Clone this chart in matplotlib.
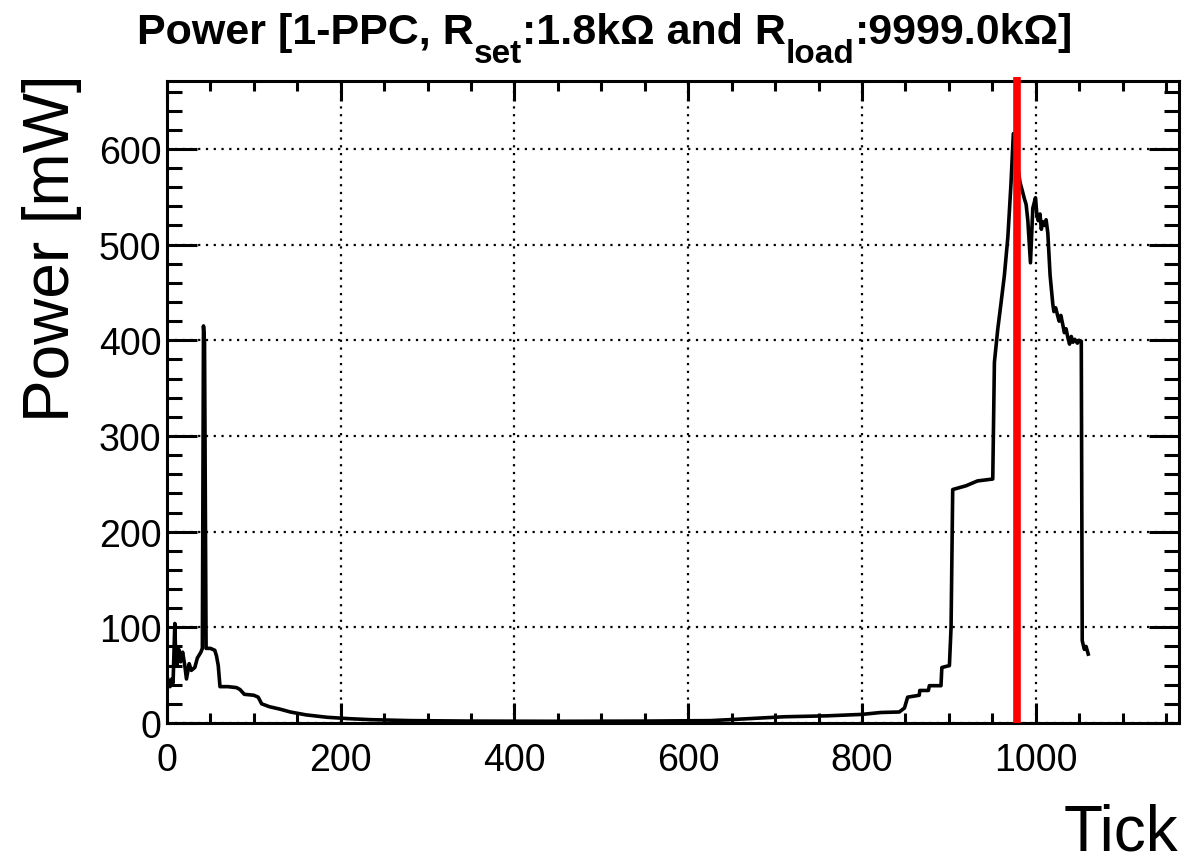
import matplotlib
matplotlib.use("Agg")
import matplotlib.pyplot as plt
from matplotlib.ticker import MultipleLocator

plt.rcParams["font.family"] = ["Liberation Sans", "DejaVu Sans"]

# power trace (tick, mW)
tick_x = [0, 3.5, 5.5, 7, 9, 10, 11.5, 13.5, 15.7, 18, 20.5, 22.4, 25.5, 28, 32, 35, 39,
          40.7, 42, 43.2, 45, 50, 55, 57, 59, 61, 70, 80, 84, 89, 100, 105, 109, 118, 130,
          142, 160, 184, 210, 234, 280, 350, 450, 550, 626, 669, 710, 760, 800, 822, 843,
          849, 852.6, 866, 866.6, 876.5, 877.6, 891, 892, 900.7, 902.6, 904.5, 920, 933,
          950.6, 952.5, 956.4, 960, 964, 968, 971.6, 974.3, 978, 982, 985, 987, 989, 991,
          994, 996.7, 999.8, 1001.5, 1003, 1005, 1006.5, 1008, 1010, 1012, 1014, 1016.6,
          1019.7, 1021, 1023, 1025.5, 1027, 1029, 1031.3, 1033, 1035, 1037, 1039, 1041,
          1043, 1045, 1048, 1050, 1052.5, 1053.6, 1056, 1058, 1060.5]
power_mw = [49, 38, 46, 42, 104, 70, 60, 77, 64, 74, 60, 46, 62, 55, 58, 68, 74,
            78, 415, 398, 78, 78, 76, 70, 60, 38, 38, 37, 35, 30, 29, 27, 20, 17, 14.5,
            11.5, 8.5, 6, 4.5, 3.5, 2.5, 2, 1.8, 2, 2.5, 4.5, 6.5, 7.5, 9, 11, 11.5,
            15.7, 27, 29, 34, 34, 39, 39, 58, 60, 100, 244, 248, 253,
            255, 377, 412, 438, 468, 508, 564, 616, 590, 565, 555, 548, 542, 525,
            481, 538, 549, 530, 525, 532, 516, 524, 520, 526, 512, 468,
            438, 430, 434, 425, 420, 426, 416, 408, 412, 403, 396, 404,
            398, 401, 397, 400, 399, 86, 77, 80, 72]
cut_tick = 978.5

title_parts = ["Power [1-PPC, R", "set", ":1.8kΩ and R", "load", ":9999.0kΩ]"]

W, H = 1201, 862
fig = plt.figure(figsize=(W / 100, H / 100), dpi=100)
ax = fig.add_axes([167 / W, 138 / H, (1179 - 167) / W, (724 - 82) / H])

ax.plot(tick_x, power_mw, color="black", lw=2.6, zorder=3)
ax.axvline(cut_tick, color="red", lw=5.5, ymin=0, ymax=1.006, clip_on=False,
           zorder=4, solid_capstyle="butt")

ax.set_xlim(0, 1165)
ax.set_ylim(0, 671)
ax.xaxis.set_major_locator(MultipleLocator(200))
ax.xaxis.set_minor_locator(MultipleLocator(50))
ax.yaxis.set_major_locator(MultipleLocator(100))
ax.yaxis.set_minor_locator(MultipleLocator(20))

ax.grid(True, which="major", color="black", linestyle=(0, (1, 2.5)), linewidth=1.6)
ax.set_axisbelow(True)
for s in ax.spines.values():
    s.set_linewidth(2.2)

ax.tick_params(which="both", direction="in", top=True, right=True, width=2.2,
               labelsize=27)
ax.tick_params(axis="x", which="major", length=14.4, pad=14)
ax.tick_params(axis="x", which="minor", length=7.2)
ax.tick_params(axis="y", which="major", length=21.6, pad=4)
ax.tick_params(axis="y", which="minor", length=10.8)

fig.text(22 / W, 1 - 75 / H, "Power [mW]", rotation=90, ha="left", va="top", fontsize=46)
fig.text(1178 / W, 1 - 851 / H, "Tick", ha="right", va="baseline", fontsize=46)

# title with ROOT-style low subscripts
r = fig.canvas.get_renderer()
sizes = [31, 24, 31, 24, 31]
drops = [0, 19, 0, 19, 0]
texts = []
for part, fs in zip(title_parts, sizes):
    texts.append(fig.text(0, 0, part, fontsize=fs, fontweight="bold", va="baseline"))
widths = [t.get_window_extent(r).width for t in texts]
x0 = 605 - sum(widths) / 2
for t, w, d in zip(texts, widths, drops):
    t.set_position((x0 / W, 1 - (44 + d) / H))
    x0 += w

fig.savefig("out.png", dpi=100)
